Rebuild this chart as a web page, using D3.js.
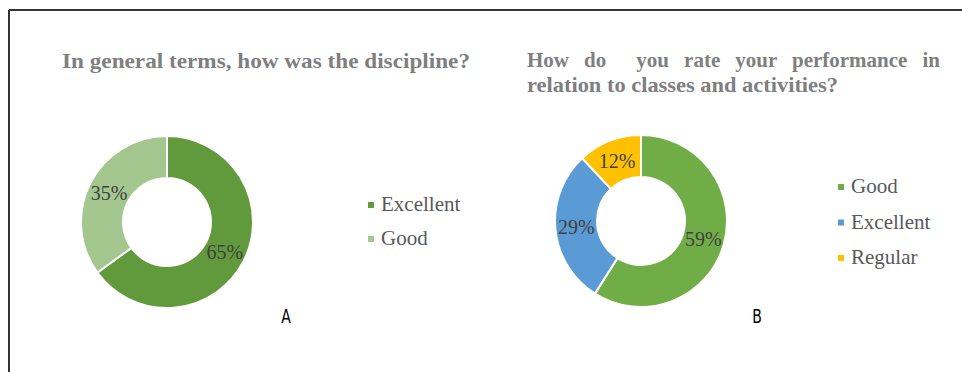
<!DOCTYPE html>
<html>
<head>
<meta charset="utf-8">
<script src="https://cdn.jsdelivr.net/npm/d3@7"></script>
<style>
  body { margin: 0; background: #fff; }
  svg { display: block; }
</style>
</head>
<body>
<svg id="chart" width="962" height="372"></svg>
<script>
// chart A data
var catsA = ["Excellent", "Good"];
var valsA = [65, 35];
var colorsA = ["#619a3d", "#a3c78e"];

// chart B data
var catsB = ["Good", "Excellent", "Regular"];
var valsB = [59, 29, 12];
var colorsB = ["#70ad47", "#5b9bd5", "#ffc000"];

var titleA = ["In general terms, how was the discipline?"];
var titleB = ["How do  you rate your performance in", "relation to classes and activities?"];
var panelLetters = ["A", "B"];

var serif = "'Liberation Serif', 'Times New Roman', serif";
var svg = d3.select("#chart");

// frame lines (top and left only)
svg.append("line").attr("x1", 9).attr("y1", 10).attr("x2", 962).attr("y2", 10)
  .attr("stroke", "#333").attr("stroke-width", 2);
svg.append("line").attr("x1", 9).attr("y1", 10).attr("x2", 9).attr("y2", 372)
  .attr("stroke", "#333").attr("stroke-width", 2);

function donut(cfg) {
  var g = svg.append("g").attr("transform", "translate(" + cfg.cx + "," + cfg.cy + ")");
  var pie = d3.pie().sort(null).value(function(d) { return d; });
  var arc = d3.arc().innerRadius(cfg.inner).outerRadius(cfg.outer);
  var labelArc = d3.arc().innerRadius(65).outerRadius(65);
  var arcs = pie(cfg.vals);

  g.selectAll("path.slice")
    .data(arcs)
    .enter().append("path")
      .attr("class", "slice")
      .attr("d", arc)
      .attr("fill", function(d, i) { return cfg.colors[i]; })
      .attr("stroke", "#fff")
      .attr("stroke-width", 2);

  g.selectAll("text.lbl")
    .data(arcs)
    .enter().append("text")
      .attr("class", "lbl")
      .attr("x", function(d) { return labelArc.centroid(d)[0]; })
      .attr("y", function(d) { return labelArc.centroid(d)[1]; })
      .attr("dy", "0.35em")
      .attr("text-anchor", "middle")
      .attr("font-family", serif)
      .attr("font-size", 20)
      .attr("fill", "#404040")
      .text(function(d) { return d.data + "%"; });

  // legend
  var items = svg.append("g").selectAll("g")
    .data(cfg.cats)
    .enter().append("g")
      .attr("transform", function(d, i) { return "translate(" + cfg.legX + "," + (cfg.legY + i * cfg.legStep) + ")"; });
  items.append("rect")
    .attr("x", 0).attr("y", -9).attr("width", 6).attr("height", 6)
    .attr("fill", function(d, i) { return cfg.colors[i]; });
  items.append("text")
    .attr("x", 13).attr("y", 0)
    .attr("font-family", serif)
    .attr("font-size", 21)
    .attr("fill", "#595959")
    .text(function(d) { return d; });

  // panel letter, narrow sans
  svg.append("text")
    .attr("transform", "translate(" + (cfg.cx + cfg.letterDx) + ",323) scale(0.82,1)")
    .attr("text-anchor", "middle")
    .attr("font-family", "'Liberation Sans Narrow', 'DejaVu Sans Condensed', sans-serif")
    .attr("font-size", 19)
    .attr("fill", "#000")
    .text(cfg.letter);
}

donut({ cx: 167, cy: 222, outer: 86, inner: 44, vals: valsA, colors: colorsA, cats: catsA,
        legX: 368, legY: 211, legStep: 34, letter: panelLetters[0], letterDx: 119 });
donut({ cx: 641, cy: 221, outer: 86, inner: 44, vals: valsB, colors: colorsB, cats: catsB,
        legX: 838, legY: 193, legStep: 35.5, letter: panelLetters[1], letterDx: 116 });

// titles
svg.append("text")
  .attr("x", 62).attr("y", 68)
  .attr("font-family", serif)
  .attr("font-weight", "bold")
  .attr("font-size", 21)
  .attr("fill", "#7f7f7f")
  .attr("textLength", 408)
  .attr("lengthAdjust", "spacingAndGlyphs")
  .text(titleA[0]);

// first line of title B is justified: stretch only the word gaps
var line1 = svg.append("text")
  .attr("x", 527).attr("y", 67)
  .attr("font-family", serif)
  .attr("font-weight", "bold").attr("font-size", 21).attr("fill", "#7f7f7f")
  .style("white-space", "pre")
  .text(titleB[0]);
var natural = line1.node().getComputedTextLength();
var gaps = titleB[0].split(" ").length - 1;
line1.attr("word-spacing", (413 - natural) / gaps);

svg.append("text")
  .attr("x", 527).attr("y", 92)
  .attr("font-family", serif)
  .attr("font-weight", "bold").attr("font-size", 21).attr("fill", "#7f7f7f")
  .attr("textLength", 311).attr("lengthAdjust", "spacingAndGlyphs")
  .text(titleB[1]);
</script>
</body>
</html>
